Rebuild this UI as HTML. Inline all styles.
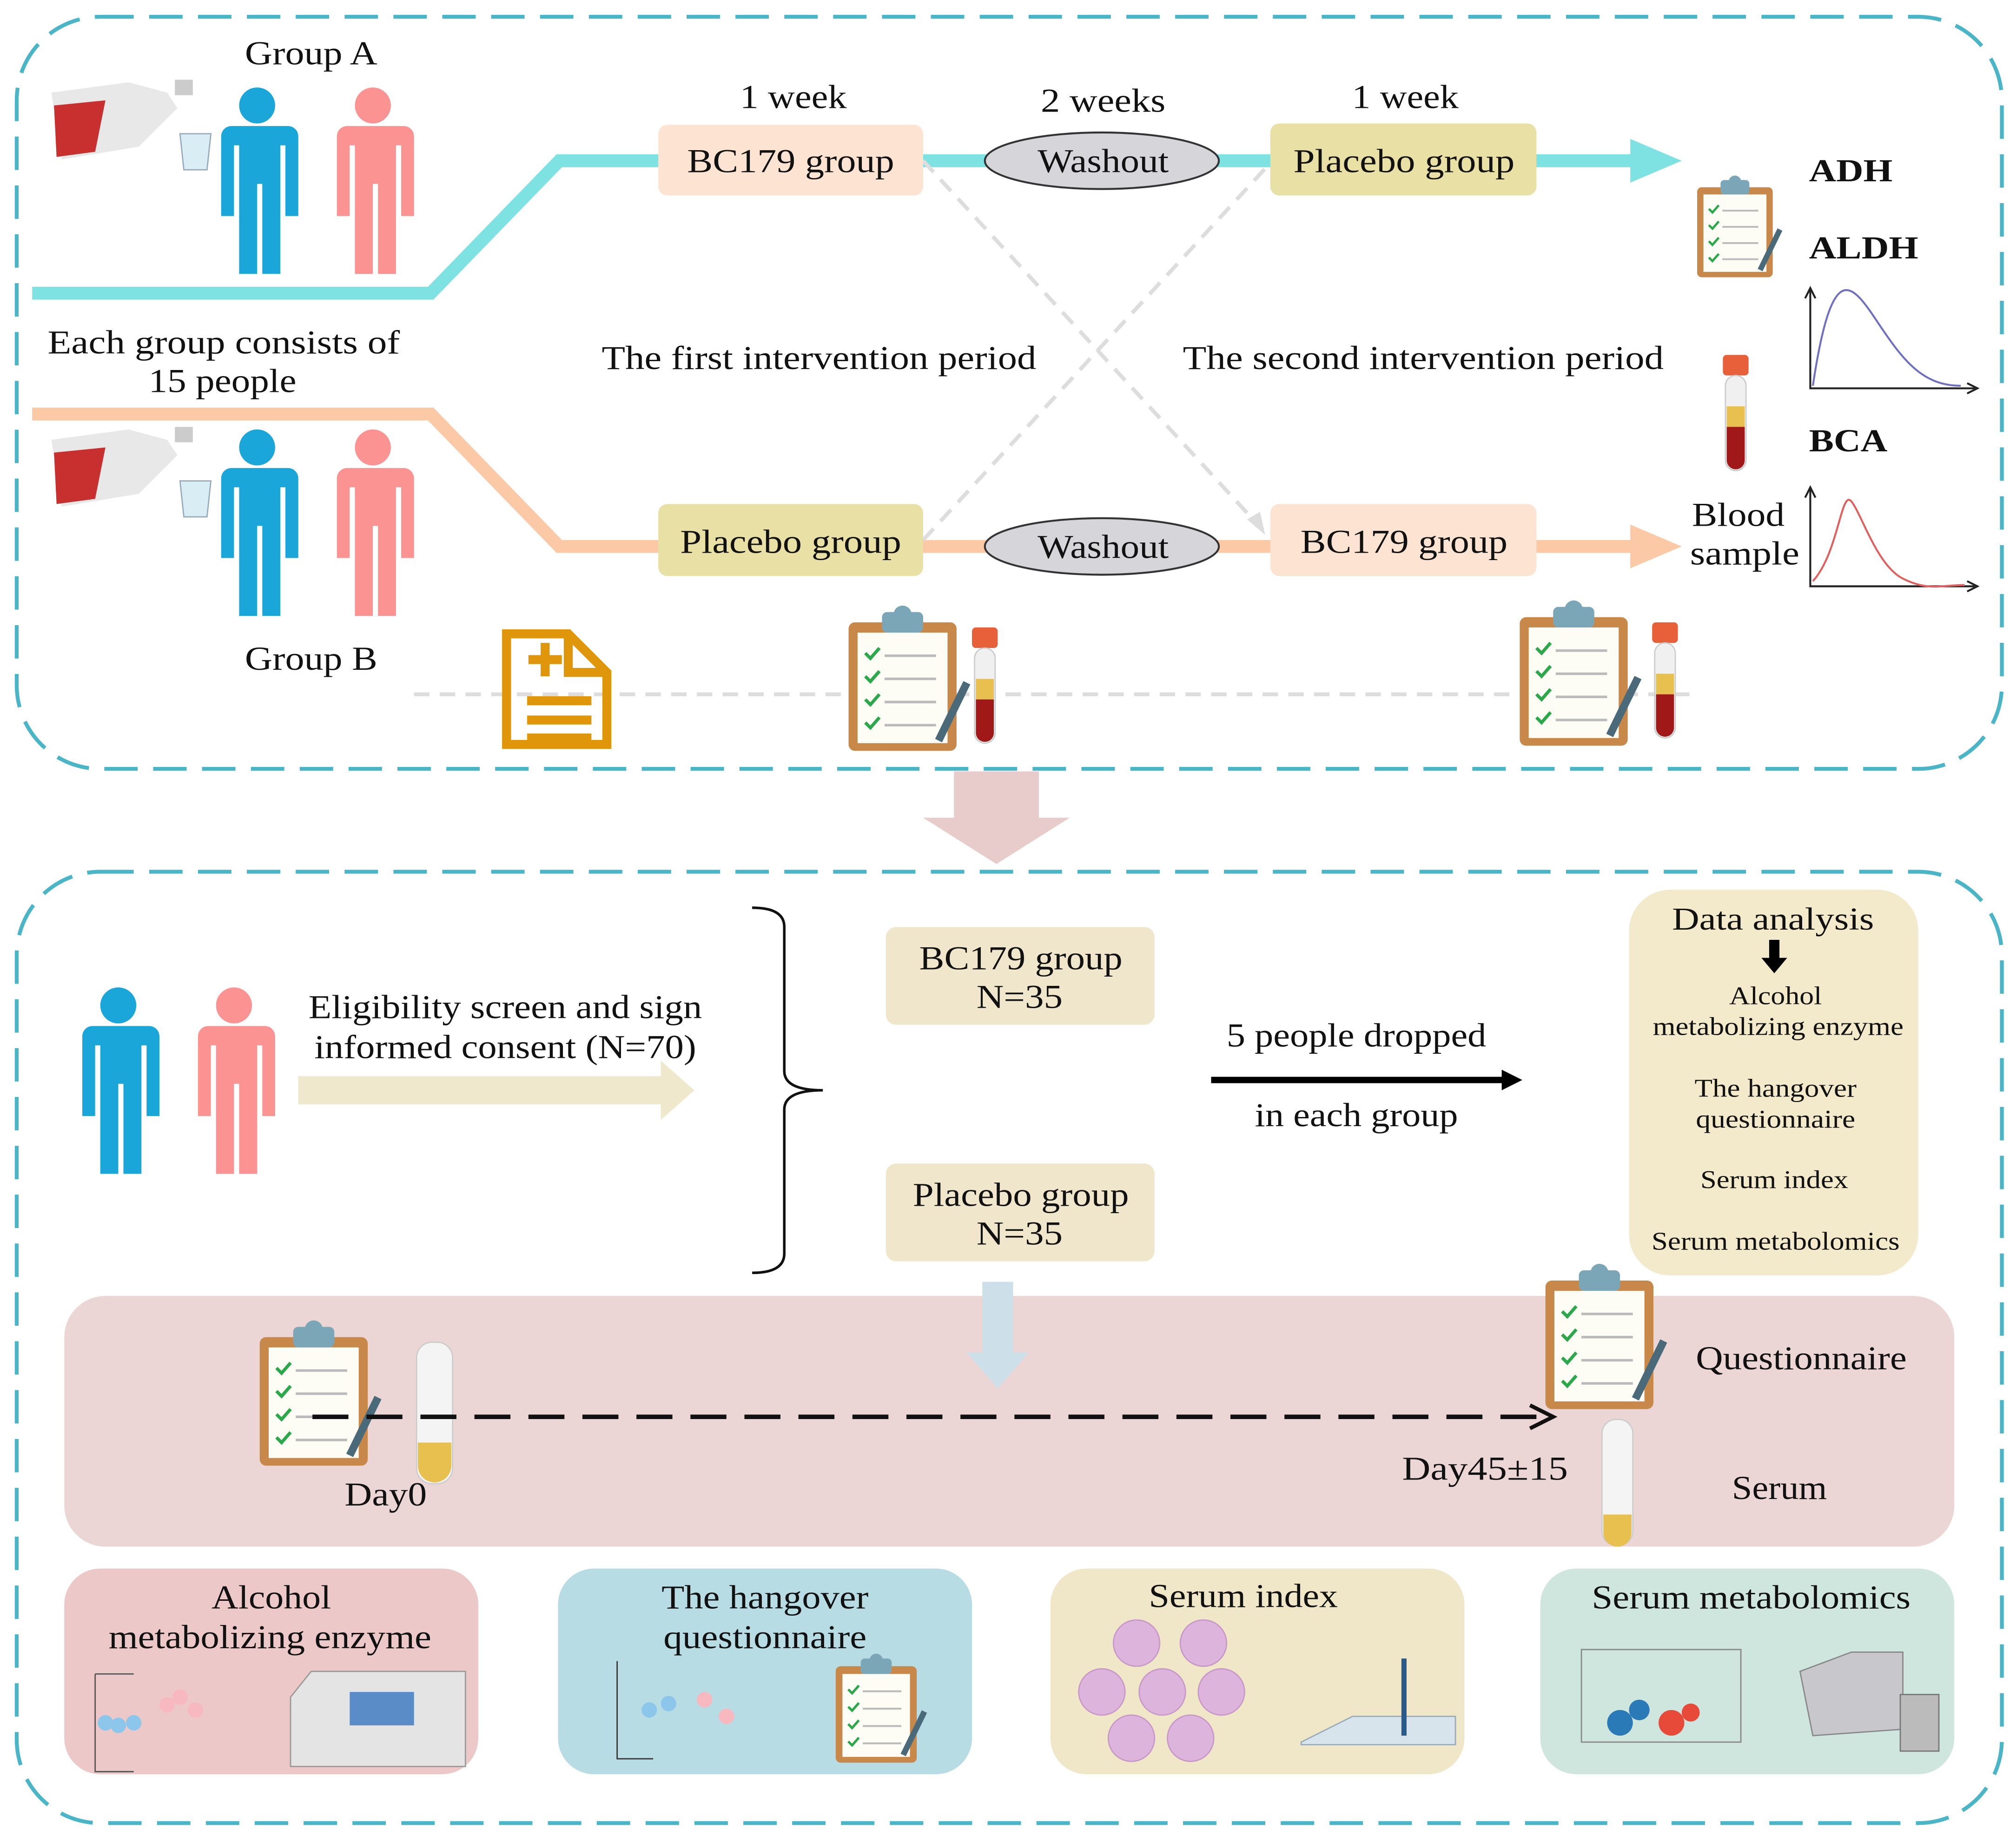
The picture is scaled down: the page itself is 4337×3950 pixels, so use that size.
<!DOCTYPE html>
<html><head><meta charset="utf-8"><style>
html,body{margin:0;padding:0;background:#fff}
svg{display:block}
text{font-family:"Liberation Serif",serif;fill:#111}
</style></head><body>
<svg width="4337" height="3950" viewBox="0 0 1568 1428" xmlns="http://www.w3.org/2000/svg">
<defs>
<g id="person">
  <circle cx="32" cy="14" r="14"/>
  <path d="M8 30 h48 a8 8 0 0 1 8 8 v62 h-10 v-55 h-4 v100 h-14 v-70 h-4 v70 h-14 v-100 h-4 v55 h-10 v-62 a8 8 0 0 1 8 -8z"/>
</g>
<g id="clip">
  <rect x="0" y="8" width="84" height="100" rx="5" fill="#c8884a"/>
  <rect x="7" y="16" width="70" height="86" fill="#fdfdf6"/>
  <rect x="26" y="0" width="32" height="16" rx="4" fill="#7aa6b8"/>
  <circle cx="42" cy="2" r="7" fill="#7aa6b8"/>
  <g stroke="#2aa84a" stroke-width="2.5" fill="none">
    <path d="M13 32 l4 4 l7 -8"/><path d="M13 50 l4 4 l7 -8"/><path d="M13 68 l4 4 l7 -8"/><path d="M13 86 l4 4 l7 -8"/>
  </g>
  <g stroke="#bbb" stroke-width="2"><line x1="28" y1="34" x2="68" y2="34"/><line x1="28" y1="52" x2="68" y2="52"/><line x1="28" y1="70" x2="68" y2="70"/><line x1="28" y1="88" x2="68" y2="88"/></g>
  <line x1="70" y1="100" x2="92" y2="55" stroke="#4a6a7a" stroke-width="6"/>
</g>
<g id="tube">
  <rect x="0" y="0" width="20" height="16" rx="3" fill="#e8603a"/>
  <rect x="2" y="16" width="16" height="74" rx="8" fill="#f0f0f0" stroke="#ccc"/>
  <rect x="3" y="40" width="14" height="16" fill="#e8c050"/>
  <path d="M3 56 h14 v26 a7 7 0 0 1 -14 0z" fill="#a01818"/>
</g>
<g id="bottle">
  <path d="M0 10 l60 -8 l30 8 l8 12 l-30 30 l-60 10z" fill="#e8e8e8"/>
  <path d="M2 20 l40 -4 l-8 40 l-30 4z" fill="#c83030"/>
  <rect x="96" y="0" width="14" height="12" fill="#ccc"/>
  <path d="M100 42 h24 l-3 28 h-18z" fill="#d8eef4" stroke="#9ab"/>
</g>
</defs>

<rect x="13" y="13" width="1544" height="585" rx="65" fill="none" stroke="#4bb5c8" stroke-width="3" stroke-dasharray="26 12"/>
<rect x="13" y="678" width="1544" height="740" rx="65" fill="none" stroke="#4bb5c8" stroke-width="3" stroke-dasharray="26 12"/>

<path d="M742 600 h66 v36 h24 l-57 36 l-57 -36 h24z" fill="#e8cccc"/>

<use href="#bottle" x="40" y="62"/>
<use href="#person" x="168" y="68" fill="#1aa6d8"/>
<use href="#person" x="258" y="68" fill="#fc9393"/>
<use href="#bottle" x="40" y="332"/>
<use href="#person" x="168" y="334" fill="#1aa6d8"/>
<use href="#person" x="258" y="334" fill="#fc9393"/>

<g font-size="26" text-anchor="middle" lengthAdjust="spacingAndGlyphs">
<text x="242" y="50" textLength="103" lengthAdjust="spacingAndGlyphs">Group A</text>
<text x="242" y="521" textLength="103" lengthAdjust="spacingAndGlyphs">Group B</text>
<text x="174" y="275" textLength="274" lengthAdjust="spacingAndGlyphs">Each group consists of</text>
<text x="173" y="305" textLength="115" lengthAdjust="spacingAndGlyphs">15 people</text>
</g>

<polyline points="25,228 335,228 435,125 1272,125" fill="none" stroke="#7ee2e2" stroke-width="10"/>
<path d="M1268 108 l40 17 l-40 17z" fill="#7ee2e2"/>
<polyline points="25,322 335,322 435,425 1272,425" fill="none" stroke="#fcc9a6" stroke-width="10"/>
<path d="M1268 408 l40 17 l-40 17z" fill="#fcc9a6"/>

<g stroke="#ddd" stroke-width="3" stroke-dasharray="12 8" fill="none">
<line x1="718" y1="125" x2="982" y2="412"/>
<line x1="718" y1="420" x2="985" y2="130"/>
<line x1="322" y1="540" x2="1318" y2="540"/>
</g>
<path d="M970 404 l14 12 l-4 -18z" fill="#ddd"/>

<rect x="512" y="97" width="206" height="55" rx="7" fill="#fde3d2"/>
<rect x="988" y="96" width="207" height="56" rx="7" fill="#e9e0a6"/>
<rect x="512" y="392" width="206" height="56" rx="7" fill="#e9e0a6"/>
<rect x="988" y="392" width="207" height="56" rx="7" fill="#fde3d2"/>
<ellipse cx="857" cy="125" rx="91" ry="22" fill="#d5d5da" stroke="#333" stroke-width="1.5"/>
<ellipse cx="857" cy="425" rx="91" ry="22" fill="#d5d5da" stroke="#333" stroke-width="1.5"/>
<g font-size="26" text-anchor="middle">
<text x="615" y="134" textLength="161" lengthAdjust="spacingAndGlyphs">BC179 group</text>
<text x="1092" y="134" textLength="172" lengthAdjust="spacingAndGlyphs">Placebo group</text>
<text x="615" y="430" textLength="172" lengthAdjust="spacingAndGlyphs">Placebo group</text>
<text x="1092" y="430" textLength="161" lengthAdjust="spacingAndGlyphs">BC179 group</text>
<text x="858" y="134" textLength="102" lengthAdjust="spacingAndGlyphs">Washout</text>
<text x="858" y="434" textLength="102" lengthAdjust="spacingAndGlyphs">Washout</text>
<text x="617" y="84" textLength="83" lengthAdjust="spacingAndGlyphs">1 week</text>
<text x="858" y="87" textLength="97" lengthAdjust="spacingAndGlyphs">2 weeks</text>
<text x="1093" y="84" textLength="83" lengthAdjust="spacingAndGlyphs">1 week</text>
<text x="637" y="287" textLength="338" lengthAdjust="spacingAndGlyphs">The first intervention period</text>
<text x="1107" y="287" textLength="374" lengthAdjust="spacingAndGlyphs">The second intervention period</text>
<text x="1352" y="409" textLength="72" lengthAdjust="spacingAndGlyphs">Blood</text>
<text x="1357" y="439" textLength="85" lengthAdjust="spacingAndGlyphs">sample</text>
</g>

<use href="#clip" x="1320" y="140" transform="translate(1320 140) scale(0.7) translate(-1320 -140)"/>
<text x="1407" y="141" font-size="25" font-weight="bold" textLength="65" lengthAdjust="spacingAndGlyphs">ADH</text>
<text x="1407" y="201" font-size="25" font-weight="bold" textLength="85" lengthAdjust="spacingAndGlyphs">ALDH</text>
<text x="1407" y="351" font-size="25" font-weight="bold" textLength="61" lengthAdjust="spacingAndGlyphs">BCA</text>
<use href="#tube" x="1340" y="276"/>
<g stroke="#222" stroke-width="1.5" fill="none">
<path d="M1408 225 v77 h128"/><path d="M1404 232 l4 -8 l4 8"/><path d="M1530 298 l8 4 l-8 4"/>
<path d="M1408 380 v76 h128"/><path d="M1404 387 l4 -8 l4 8"/><path d="M1530 452 l8 4 l-8 4"/>
</g>
<path d="M1410 300 C1425 200 1440 220 1460 250 S1495 300 1525 300" fill="none" stroke="#7070c0" stroke-width="1.5"/>
<path d="M1410 452 C1430 430 1432 380 1440 390 S1460 440 1480 450 S1510 455 1528 455" fill="none" stroke="#e06060" stroke-width="1.5"/>

<g fill="none" stroke="#e0960a" stroke-width="7">
<path d="M394 493 h48 l30 30 v56 h-78z"/><path d="M442 493 v30 h30"/>
<line x1="410" y1="545" x2="460" y2="545"/><line x1="410" y1="560" x2="460" y2="560"/><line x1="410" y1="574" x2="460" y2="574"/>
<line x1="424" y1="500" x2="424" y2="526"/><line x1="411" y1="513" x2="437" y2="513"/>
</g>
<use href="#clip" x="660" y="476"/>
<use href="#tube" x="756" y="488"/>
<use href="#clip" x="1182" y="472"/>
<use href="#tube" x="1285" y="484"/>

<use href="#person" x="60" y="768" fill="#1aa6d8"/>
<use href="#person" x="150" y="768" fill="#fc9393"/>
<path d="M232 837 h282 v-12 l26 23 l-26 23 v-12 h-282z" fill="#efe8cc"/>
<path d="M585 706 q25 0 25 15 v112 q0 15 30 15 q-30 0 -30 15 v112 q0 15 -25 15" fill="none" stroke="#111" stroke-width="2"/>
<rect x="689" y="721" width="209" height="76" rx="8" fill="#f0e6cc"/>
<rect x="689" y="905" width="209" height="76" rx="8" fill="#f0e6cc"/>
<line x1="942" y1="840" x2="1170" y2="840" stroke="#000" stroke-width="5"/>
<path d="M1168 832 l16 8 l-16 8z" fill="#000"/>
<g font-size="26" text-anchor="middle">
<text x="393" y="792" textLength="306" lengthAdjust="spacingAndGlyphs">Eligibility screen and sign</text>
<text x="393" y="823" textLength="297" lengthAdjust="spacingAndGlyphs">informed consent (N=70)</text>
<text x="794" y="754" textLength="158" lengthAdjust="spacingAndGlyphs">BC179 group</text>
<text x="793" y="784" textLength="67" lengthAdjust="spacingAndGlyphs">N=35</text>
<text x="794" y="938" textLength="168" lengthAdjust="spacingAndGlyphs">Placebo group</text>
<text x="793" y="968" textLength="67" lengthAdjust="spacingAndGlyphs">N=35</text>
<text x="1055" y="814" textLength="202" lengthAdjust="spacingAndGlyphs">5 people dropped</text>
<text x="1055" y="876" textLength="158" lengthAdjust="spacingAndGlyphs">in each group</text>
</g>

<rect x="1267" y="692" width="225" height="300" rx="32" fill="#f3e9cb"/>
<text x="1379" y="723" font-size="25" text-anchor="middle" textLength="157" lengthAdjust="spacingAndGlyphs">Data analysis</text>
<path d="M1376 731 h8 v14 h6 l-10 12 l-10 -12 h6z" fill="#000"/>
<g font-size="20" text-anchor="middle">
<text x="1381" y="781" textLength="72" lengthAdjust="spacingAndGlyphs">Alcohol</text>
<text x="1383" y="805" textLength="195" lengthAdjust="spacingAndGlyphs">metabolizing enzyme</text>
<text x="1381" y="853" textLength="126" lengthAdjust="spacingAndGlyphs">The hangover</text>
<text x="1381" y="877" textLength="124" lengthAdjust="spacingAndGlyphs">questionnaire</text>
<text x="1380" y="924" textLength="115" lengthAdjust="spacingAndGlyphs">Serum index</text>
<text x="1381" y="972" textLength="193" lengthAdjust="spacingAndGlyphs">Serum metabolomics</text>
</g>

<rect x="50" y="1008" width="1470" height="195" rx="32" fill="#ecd5d5"/>
<path d="M764 997 h24 v55 h12 l-24 28 l-24 -28 h12z" fill="#cde0ea"/>
<use href="#clip" x="202" y="1032"/>
<rect x="324" y="1044" width="28" height="110" rx="12" fill="#f4f4f4" stroke="#ccc"/>
<path d="M325 1122 h26 v18 a13 13 0 0 1 -26 0z" fill="#e8c050"/>
<line x1="243" y1="1102" x2="1195" y2="1102" stroke="#111" stroke-width="3.5" stroke-dasharray="28 14"/>
<path d="M1190 1093 l18 9 l-18 9" fill="none" stroke="#111" stroke-width="3"/>
<use href="#clip" x="1202" y="988"/>
<rect x="1246" y="1104" width="24" height="98" rx="11" fill="#f4f4f4" stroke="#ccc"/>
<path d="M1247 1178 h22 v14 a11 11 0 0 1 -22 0z" fill="#e8c050"/>
<g font-size="26" text-anchor="middle">
<text x="300" y="1171" textLength="64" lengthAdjust="spacingAndGlyphs">Day0</text>
<text x="1155" y="1151" textLength="129" lengthAdjust="spacingAndGlyphs">Day45±15</text>
<text x="1401" y="1065" textLength="164" lengthAdjust="spacingAndGlyphs">Questionnaire</text>
<text x="1384" y="1166" textLength="74" lengthAdjust="spacingAndGlyphs">Serum</text>
</g>

<rect x="50" y="1220" width="322" height="160" rx="28" fill="#edc8c8"/>
<rect x="434" y="1220" width="322" height="160" rx="28" fill="#b8dce4"/>
<rect x="817" y="1220" width="322" height="160" rx="28" fill="#f0e6c8"/>
<rect x="1198" y="1220" width="322" height="160" rx="28" fill="#cfe6df"/>
<g font-size="26" text-anchor="middle">
<text x="211" y="1251" textLength="93" lengthAdjust="spacingAndGlyphs">Alcohol</text>
<text x="210" y="1282" textLength="251" lengthAdjust="spacingAndGlyphs">metabolizing enzyme</text>
<text x="595" y="1251" textLength="161" lengthAdjust="spacingAndGlyphs">The hangover</text>
<text x="595" y="1282" textLength="158" lengthAdjust="spacingAndGlyphs">questionnaire</text>
<text x="967" y="1250" textLength="147" lengthAdjust="spacingAndGlyphs">Serum index</text>
<text x="1362" y="1251" textLength="248" lengthAdjust="spacingAndGlyphs">Serum metabolomics</text>
</g>
<g stroke="#555" stroke-width="1" fill="none"><path d="M74 1302 v76 h30 M104 1302 h-30"/><path d="M74 1378 h30"/></g>
<g fill="#8cc6ea"><circle cx="82" cy="1340" r="6"/><circle cx="92" cy="1342" r="6"/><circle cx="104" cy="1340" r="6"/></g>
<g fill="#f8b8c0"><circle cx="130" cy="1326" r="6"/><circle cx="140" cy="1320" r="6"/><circle cx="152" cy="1330" r="6"/></g>
<path d="M226 1320 l16 -20 h120 v74 h-136z" fill="#e4e4e4" stroke="#999"/>
<rect x="272" y="1316" width="50" height="26" fill="#5a8cc8"/>
<path d="M480 1292 v76 h28" stroke="#333" fill="none"/>
<g fill="#8cc6ea"><circle cx="505" cy="1330" r="6"/><circle cx="520" cy="1325" r="6"/></g>
<g fill="#f8b8c0"><circle cx="548" cy="1322" r="6"/><circle cx="565" cy="1335" r="6"/></g>
<use href="#clip" x="650" y="1290" transform="translate(650 1290) scale(0.75) translate(-650 -1290)"/>
<g fill="#ddb4dc" stroke="#c898c8">
<circle cx="884" cy="1278" r="18"/><circle cx="936" cy="1278" r="18"/>
<circle cx="857" cy="1316" r="18"/><circle cx="904" cy="1316" r="18"/><circle cx="950" cy="1316" r="18"/>
<circle cx="880" cy="1352" r="18"/><circle cx="926" cy="1352" r="18"/></g>
<path d="M1012 1355 l40 -20 h80 v22 h-120z" fill="#d8e4ec" stroke="#9ab"/>
<line x1="1092" y1="1290" x2="1092" y2="1350" stroke="#2a5a8a" stroke-width="4"/>
<rect x="1230" y="1283" width="124" height="72" fill="none" stroke="#888"/>
<g fill="#2a7ab8"><circle cx="1260" cy="1340" r="10"/><circle cx="1275" cy="1330" r="8"/></g>
<g fill="#e84a3a"><circle cx="1300" cy="1340" r="10"/><circle cx="1315" cy="1332" r="7"/></g>
<path d="M1400 1300 l40 -15 h40 v60 l-70 5z" fill="#c8c8cc" stroke="#888"/>
<rect x="1478" y="1318" width="30" height="44" fill="#bbb" stroke="#777"/>
</svg>
</body></html>
